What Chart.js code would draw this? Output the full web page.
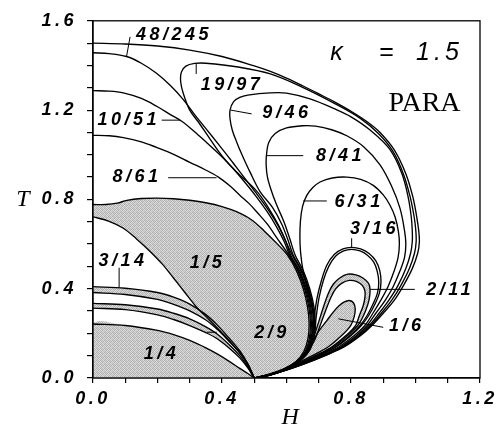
<!DOCTYPE html>
<html>
<head>
<meta charset="utf-8">
<script src="https://cdn.jsdelivr.net/npm/chart.js@4.4.1/dist/chart.umd.min.js"></script>
<style>
  body { margin: 0; background: #fff; }
  #wrap { width: 499px; height: 427px; }
</style>
</head>
<body>
<div id="wrap"><canvas id="phase" width="499" height="427"></canvas></div>
<script>
// phase boundaries in the (H, T) plane, kappa = 1.5

// lower-left family: 1/4, 2/9, 3/14, 1/5
const quarterTop = [[0,0.242],[0.1,0.235],[0.2,0.213],[0.25,0.194],[0.3,0.168],[0.35,0.135],[0.385,0.108],[0.42,0.077],[0.455,0.043],[0.48,0.02],[0.5,0]];
const band29Top = [[0,0.334],[0.1,0.328],[0.2,0.309],[0.25,0.29],[0.3,0.265],[0.35,0.229],[0.385,0.197],[0.42,0.152],[0.455,0.1],[0.48,0.05],[0.5,0]];
const band29Bot = [[0,0.313],[0.1,0.306],[0.2,0.283],[0.25,0.262],[0.3,0.235],[0.35,0.203],[0.385,0.176],[0.42,0.137],[0.455,0.09],[0.48,0.045],[0.5,0]];
const band314Top = [[0,0.409],[0.1,0.402],[0.2,0.383],[0.25,0.362],[0.3,0.331],[0.35,0.284],[0.385,0.238],[0.42,0.182],[0.455,0.122],[0.48,0.063],[0.5,0]];
const band314Bot = [[0,0.383],[0.1,0.374],[0.2,0.352],[0.25,0.33],[0.3,0.301],[0.35,0.26],[0.385,0.218],[0.42,0.167],[0.455,0.112],[0.48,0.058],[0.5,0]];
const fifthLow = [[0,0.722],[0.05,0.702],[0.094,0.671],[0.135,0.623],[0.177,0.567],[0.215,0.51],[0.249,0.449],[0.285,0.383],[0.322,0.316],[0.35,0.276],[0.375,0.24],[0.4,0.202],[0.43,0.155],[0.46,0.105],[0.482,0.058],[0.5,0]];
const fifthTop = [[0,0.777],[0.04,0.777],[0.075,0.783],[0.105,0.796],[0.15,0.804],[0.2,0.806],[0.25,0.803],[0.3,0.796],[0.35,0.785],[0.4,0.768],[0.445,0.745],[0.49,0.71],[0.53,0.66],[0.57,0.603],[0.603,0.55],[0.631,0.48],[0.652,0.4],[0.665,0.32],[0.67,0.25],[0.667,0.18],[0.654,0.12],[0.628,0.072],[0.587,0.035],[0.543,0.012],[0.5,0]];

// curves entering from H = 0
const curve861 = [[0,1.087],[0.05,1.085],[0.094,1.077],[0.15,1.058],[0.197,1.033],[0.25,1.002],[0.3,0.966],[0.345,0.935],[0.389,0.9],[0.425,0.86],[0.456,0.818],[0.485,0.78],[0.51,0.74],[0.54,0.69],[0.57,0.628],[0.607,0.55],[0.635,0.48],[0.656,0.4],[0.669,0.32],[0.674,0.25],[0.671,0.18],[0.658,0.12],[0.63,0.072],[0.588,0.035],[0.543,0.012],[0.5,0]];
const curve1051 = [[0,1.287],[0.05,1.285],[0.094,1.277],[0.15,1.252],[0.2,1.215],[0.24,1.18],[0.275,1.15],[0.315,1.103],[0.352,1.055],[0.395,0.998],[0.435,0.937],[0.47,0.878],[0.505,0.815],[0.54,0.745],[0.57,0.675],[0.593,0.61],[0.61,0.55],[0.638,0.48],[0.659,0.4],[0.672,0.32],[0.677,0.25],[0.674,0.18],[0.661,0.12],[0.632,0.072],[0.589,0.035],[0.544,0.012],[0.5,0]];
const curve245 = [[0,1.457],[0.05,1.453],[0.104,1.44],[0.15,1.41],[0.197,1.365],[0.24,1.31],[0.28,1.247],[0.315,1.18],[0.352,1.114],[0.39,1.045],[0.425,0.981],[0.465,0.905],[0.505,0.83],[0.545,0.75],[0.575,0.68],[0.597,0.615],[0.613,0.55],[0.641,0.48],[0.662,0.4],[0.675,0.32],[0.68,0.25],[0.677,0.18],[0.663,0.12],[0.633,0.072],[0.59,0.035],[0.544,0.012],[0.5,0]];
const outerEdge = [[0,1.5],[0.1,1.496],[0.2,1.487],[0.3,1.469],[0.4,1.44],[0.5,1.398],[0.55,1.373],[0.6,1.343],[0.65,1.309],[0.7,1.273],[0.75,1.236],[0.8,1.195],[0.85,1.148],[0.89,1.1],[0.935,1.02],[0.97,0.915],[0.992,0.81],[1.004,0.72],[1.01,0.66],[1.012,0.61],[1.007,0.56],[0.99,0.49],[0.963,0.415],[0.935,0.35],[0.9,0.29],[0.865,0.235],[0.83,0.19],[0.78,0.14],[0.72,0.1],[0.66,0.065],[0.6,0.035],[0.55,0.015],[0.5,0]];

// closed loops leaving (0.5, 0)
const loop1997 = [[0.5,0],[0.545,0.012],[0.592,0.035],[0.635,0.075],[0.663,0.12],[0.679,0.18],[0.683,0.25],[0.679,0.32],[0.667,0.4],[0.645,0.48],[0.618,0.55],[0.597,0.615],[0.575,0.685],[0.545,0.76],[0.507,0.838],[0.446,0.922],[0.4,0.995],[0.363,1.07],[0.33,1.14],[0.3,1.2],[0.281,1.27],[0.272,1.325],[0.274,1.37],[0.288,1.397],[0.315,1.409],[0.35,1.41],[0.45,1.393],[0.55,1.362],[0.65,1.302],[0.75,1.229],[0.83,1.162],[0.885,1.095],[0.93,1.015],[0.963,0.912],[0.984,0.808],[0.996,0.72],[1.001,0.66],[1.002,0.61],[0.997,0.56],[0.981,0.49],[0.955,0.415],[0.927,0.35],[0.894,0.29],[0.861,0.235],[0.827,0.19],[0.777,0.14],[0.718,0.1],[0.658,0.065],[0.599,0.035],[0.55,0.015],[0.5,0]];
const loop946 = [[0.5,0],[0.545,0.012],[0.593,0.035],[0.636,0.075],[0.665,0.12],[0.682,0.18],[0.686,0.25],[0.682,0.32],[0.669,0.4],[0.648,0.48],[0.621,0.55],[0.604,0.62],[0.585,0.69],[0.556,0.765],[0.518,0.835],[0.487,0.922],[0.462,1.0],[0.446,1.055],[0.432,1.11],[0.425,1.16],[0.425,1.2],[0.436,1.238],[0.455,1.257],[0.48,1.267],[0.549,1.277],[0.6,1.276],[0.673,1.25],[0.75,1.205],[0.8,1.17],[0.86,1.11],[0.92,1.025],[0.958,0.915],[0.978,0.805],[0.987,0.72],[0.99,0.66],[0.99,0.61],[0.985,0.56],[0.97,0.49],[0.946,0.415],[0.918,0.35],[0.887,0.29],[0.856,0.235],[0.822,0.19],[0.773,0.14],[0.715,0.1],[0.656,0.065],[0.598,0.035],[0.549,0.015],[0.5,0]];
const loop841 = [[0.5,0],[0.546,0.012],[0.594,0.035],[0.638,0.075],[0.667,0.12],[0.684,0.18],[0.689,0.25],[0.685,0.32],[0.672,0.4],[0.652,0.48],[0.627,0.55],[0.611,0.62],[0.592,0.7],[0.568,0.78],[0.551,0.848],[0.541,0.9],[0.537,0.952],[0.538,1.0],[0.545,1.055],[0.565,1.095],[0.6,1.12],[0.65,1.13],[0.69,1.128],[0.74,1.112],[0.787,1.085],[0.84,1.035],[0.89,0.955],[0.925,0.862],[0.952,0.76],[0.966,0.66],[0.97,0.6],[0.966,0.54],[0.952,0.48],[0.931,0.41],[0.907,0.35],[0.877,0.29],[0.85,0.235],[0.817,0.19],[0.769,0.14],[0.711,0.1],[0.654,0.065],[0.596,0.035],[0.548,0.015],[0.5,0]];
const loop631 = [[0.5,0],[0.547,0.012],[0.595,0.035],[0.64,0.075],[0.67,0.12],[0.684,0.18],[0.687,0.25],[0.679,0.316],[0.668,0.38],[0.656,0.45],[0.647,0.52],[0.642,0.6],[0.643,0.7],[0.65,0.77],[0.663,0.818],[0.681,0.852],[0.704,0.878],[0.742,0.896],[0.787,0.9],[0.83,0.89],[0.869,0.863],[0.9,0.82],[0.921,0.774],[0.937,0.72],[0.947,0.656],[0.95,0.6],[0.946,0.54],[0.934,0.48],[0.915,0.41],[0.893,0.35],[0.868,0.29],[0.843,0.235],[0.81,0.19],[0.763,0.14],[0.707,0.1],[0.65,0.065],[0.594,0.035],[0.547,0.015],[0.5,0]];
const loop316 = [[0.5,0],[0.548,0.013],[0.597,0.038],[0.642,0.08],[0.668,0.13],[0.681,0.2],[0.686,0.272],[0.695,0.36],[0.709,0.44],[0.725,0.505],[0.748,0.553],[0.775,0.578],[0.802,0.585],[0.83,0.578],[0.856,0.558],[0.877,0.525],[0.889,0.482],[0.893,0.43],[0.888,0.38],[0.874,0.33],[0.855,0.28],[0.832,0.235],[0.8,0.19],[0.755,0.14],[0.7,0.1],[0.646,0.065],[0.591,0.035],[0.546,0.015],[0.5,0]];
const loop316In = [[0.5,0],[0.55,0.014],[0.6,0.04],[0.646,0.082],[0.673,0.13],[0.687,0.2],[0.692,0.272],[0.701,0.36],[0.715,0.44],[0.731,0.5],[0.752,0.545],[0.777,0.569],[0.802,0.576],[0.828,0.569],[0.851,0.55],[0.87,0.52],[0.881,0.48],[0.886,0.43],[0.882,0.38],[0.868,0.33],[0.85,0.28],[0.828,0.235],[0.797,0.19],[0.752,0.14],[0.698,0.1],[0.644,0.065],[0.59,0.035],[0.545,0.015],[0.5,0]];
const band211Out = [[0.5,0],[0.55,0.016],[0.6,0.045],[0.645,0.09],[0.675,0.15],[0.695,0.23],[0.714,0.316],[0.73,0.38],[0.745,0.42],[0.765,0.448],[0.79,0.465],[0.815,0.462],[0.838,0.447],[0.854,0.425],[0.859,0.397],[0.856,0.35],[0.845,0.3],[0.832,0.26],[0.821,0.235],[0.79,0.19],[0.746,0.14],[0.694,0.1],[0.641,0.065],[0.588,0.035],[0.544,0.015],[0.5,0]];
const band211In = [[0.5,0],[0.552,0.018],[0.603,0.048],[0.65,0.095],[0.682,0.155],[0.703,0.23],[0.722,0.305],[0.738,0.362],[0.753,0.4],[0.772,0.425],[0.795,0.437],[0.818,0.432],[0.835,0.415],[0.843,0.39],[0.843,0.36],[0.838,0.325],[0.826,0.28],[0.814,0.235],[0.784,0.19],[0.741,0.14],[0.689,0.1],[0.638,0.065],[0.586,0.035],[0.543,0.015],[0.5,0]];
const lobe16 = [[0.5,0],[0.56,0.022],[0.61,0.055],[0.645,0.09],[0.668,0.13],[0.683,0.168],[0.7,0.21],[0.725,0.257],[0.745,0.295],[0.762,0.322],[0.778,0.34],[0.795,0.347],[0.808,0.336],[0.813,0.31],[0.81,0.275],[0.799,0.235],[0.771,0.19],[0.73,0.14],[0.68,0.1],[0.631,0.065],[0.582,0.035],[0.541,0.015],[0.5,0]];

// phase names and where they sit
const phaseNames = ['48/245','19/97','9/46','8/41','6/31','3/16','2/11','1/6','1/4','1/5','2/9','3/14','10/51','8/61'];
const nameH = [0.245,0.425,0.595,0.761,0.819,0.867,1.101,0.967,0.206,0.349,0.549,0.087,0.105,0.13];
const nameT = [1.538,1.314,1.188,0.995,0.789,0.667,0.392,0.235,0.106,0.516,0.2,0.523,1.157,0.898];
// leader lines: [H0, T0, H1, T1]
const leaders = [
  [0.115,1.528,0.104,1.44],[0.32,1.41,0.32,1.362],[0.427,1.2,0.492,1.183],
  [0.537,0.996,0.652,0.996],[0.652,0.793,0.725,0.793],[0.802,0.626,0.802,0.585],
  [0.859,0.397,0.998,0.397],[0.761,0.265,0.9,0.227],[0.352,0.205,0.384,0.205],
  [0.081,0.494,0.081,0.405],[0.213,1.155,0.27,1.155],[0.233,0.897,0.383,0.897]
];

const tickFont = {family: 'Liberation Sans', size: 18, style: 'italic', weight: 'bold'};

function grainPattern() {
  const c = document.createElement('canvas');
  c.width = 4; c.height = 4;
  const g = c.getContext('2d');
  const levels = [168,214,186,222, 226,178,206,172, 192,218,170,224, 208,176,228,188];
  levels.forEach((v, i) => {
    g.fillStyle = `rgb(${v},${v},${v})`;
    g.fillRect(i % 4, Math.floor(i / 4), 1, 1);
  });
  return g.createPattern(c, 'repeat');
}
const grain = grainPattern();

const toPts = arr => arr.map(([x, y]) => ({x, y}));
const lineSet = arr => ({
  data: toPts(arr), showLine: true, borderColor: '#000', borderWidth: 1.35,
  pointRadius: 0, tension: 0.35, fill: false, order: 1
});
const shadeSet = arr => ({
  data: toPts(arr), showLine: true, borderColor: 'rgba(0,0,0,0)', borderWidth: 1,
  backgroundColor: grain, pointRadius: 0, tension: 0.35, fill: 'shape', order: 2
});

const shaded = [
  [[0, 0], ...quarterTop],
  [...band29Top, ...[...band29Bot].reverse()],
  [...band314Top, ...[...band314Bot].reverse()],
  [...fifthTop, ...[...fifthLow].reverse()],
  [...band211Out, ...[...band211In].reverse()],
  lobe16
];
const lines = [quarterTop, band29Top, band29Bot, band314Top, band314Bot, fifthLow, fifthTop,
  curve861, curve1051, curve245, outerEdge, loop1997, loop946, loop841, loop631,
  loop316, loop316In, band211Out, band211In, lobe16];

const labelPlugin = {
  id: 'phaseText',
  beforeDraw(chart) {
    chart.ctx.letterSpacing = '3.5px';
  },
  afterDraw(chart) {
    const {ctx, chartArea: a, scales: {x, y}} = chart;
    ctx.save();
    ctx.strokeStyle = '#000';
    ctx.lineWidth = 1.3;
    ctx.strokeRect(a.left, a.top, a.right - a.left, a.bottom - a.top);

    ctx.lineWidth = 1;
    leaders.forEach(([h0, t0, h1, t1]) => {
      ctx.beginPath();
      ctx.moveTo(x.getPixelForValue(h0), y.getPixelForValue(t0));
      ctx.lineTo(x.getPixelForValue(h1), y.getPixelForValue(t1));
      ctx.stroke();
    });

    ctx.fillStyle = '#000';
    ctx.textAlign = 'center';
    ctx.textBaseline = 'middle';
    ctx.letterSpacing = '3.5px';
    ctx.font = 'italic bold 18px "Liberation Sans"';
    phaseNames.forEach((s, i) => {
      ctx.fillText(s, x.getPixelForValue(nameH[i]) + 2, y.getPixelForValue(nameT[i]));
    });

    ctx.letterSpacing = '0px';
    ctx.font = 'italic 25px "Liberation Sans"';
    const ty = y.getPixelForValue(1.456);
    ctx.fillText('\u03ba', x.getPixelForValue(0.755), ty);
    ctx.font = '25px "Liberation Sans"';
    ctx.fillText('=', x.getPixelForValue(0.91), ty);
    ctx.font = 'italic 25px "Liberation Sans"';
    ctx.letterSpacing = '4px';
    ctx.fillText('1.5', x.getPixelForValue(1.068) + 2, ty);

    ctx.letterSpacing = '0px';
    ctx.font = '28px "Liberation Serif"';
    ctx.fillText('PARA', x.getPixelForValue(1.028), y.getPixelForValue(1.228));

    ctx.font = 'italic 24px "Liberation Serif"';
    ctx.fillText('H', x.getPixelForValue(0.611), a.bottom + 40);
    ctx.fillText('T', a.left - 70, y.getPixelForValue(0.797));
    ctx.restore();
  }
};

const labelEvery = v => (Math.round(v * 10) % 4 === 0 ? v.toFixed(1) : '');

new Chart(document.getElementById('phase'), {
  type: 'scatter',
  data: {
    datasets: [...lines.map(lineSet), ...shaded.map(shadeSet)]
  },
  options: {
    responsive: false,
    animation: false,
    devicePixelRatio: 1,
    layout: {padding: {top: 17, right: 19, left: 0, bottom: 0}},
    plugins: {legend: {display: false}, tooltip: {enabled: false}},
    scales: {
      x: {
        type: 'linear', min: 0, max: 1.2,
        ticks: {stepSize: 0.1, autoSkip: false, maxRotation: 0, callback: labelEvery,
                font: tickFont, color: '#000', padding: 5},
        grid: {drawOnChartArea: false, tickLength: 5, color: '#000', lineWidth: 1.2},
        border: {color: '#000', width: 1.3},
        afterFit: s => { s.height = 49; }
      },
      y: {
        type: 'linear', min: 0, max: 1.6,
        ticks: {stepSize: 0.1, autoSkip: false, callback: labelEvery,
                font: tickFont, color: '#000', padding: 10},
        grid: {drawOnChartArea: false, tickLength: 6, color: '#000', lineWidth: 1.2},
        border: {color: '#000', width: 1.3},
        afterFit: s => { s.width = 93; }
      }
    }
  },
  plugins: [labelPlugin]
});
</script>
</body>
</html>
